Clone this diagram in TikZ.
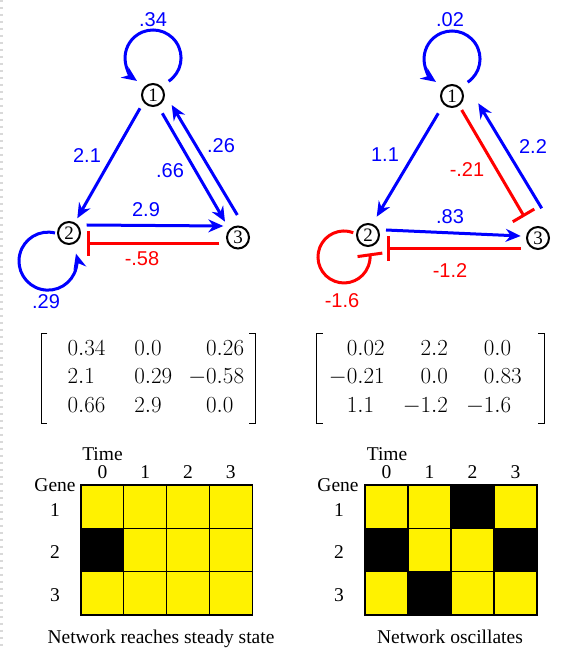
\documentclass[tikz,border=0pt]{standalone}
\usepackage{fix-cm}
\usepackage{fontspec}
\newfontfamily\wsans{Liberation Sans}
\newfontfamily\wserif{Liberation Serif}
\usetikzlibrary{arrows.meta,calc}

\tikzset{
  gene/.style={circle, draw, line width=2pt, minimum size=22pt, inner sep=0pt,
    font=\wserif\fontsize{19}{19}\selectfont},
  act/.style={draw=blue, line width=3pt, -{Stealth[length=15pt,width=13pt,inset=5pt]}},
  inh/.style={draw=red, line width=3pt, -{Bar[width=25pt]}},
  wt/.style={font=\wsans\fontsize{20}{20}\selectfont, inner sep=0pt},
  matx/.style={inner sep=0pt, font=\fontsize{23}{28.5}\selectfont},
  brk/.style={line width=0.9pt},
  gtext/.style={font=\wserif\fontsize{19.5}{19.5}\selectfont, inner sep=0pt},
  cell/.style={fill=yellow, draw=black, line width=1.2pt},
  off/.style={fill=black, draw=black, line width=1.2pt},
}

\begin{document}
\begin{tikzpicture}[x=1pt, y=1pt]
\useasboundingbox (0,0) rectangle (565,649);
% page edge
\draw[black!15, line width=2.5pt, dash pattern=on 2pt off 5pt] (1.5,649) -- (1.5,0);

% Network 1: reaches steady state
\node[gene] (L1) at (153,554) {1};
\node[gene] (L2) at (69,416) {2};
\node[gene] (L3) at (238,411.5) {3};

\draw[act] ($(L1)+(15.7,13.8)$) arc[start angle=-56, end angle=235, radius=28];
\draw[act] ($(L2)+(-14,0)$) arc[start angle=76, end angle=375, radius=29];
\draw[act] ($(L1)+(-13,-13.3)$) -- ($(L2)+(8.3,14.7)$);
\draw[act] ($(L1)+(9.3,-18.3)$) -- ($(L3)+(-13,15.8)$);
\draw[act] ($(L3)+(-0.7,22.5)$) -- ($(L1)+(18.7,-10)$);
\draw[act] ($(L2)+(17.7,8)$) -- ($(L3)+(-14.7,11.5)$);
\draw[inh] ($(L3)+(-18.7,-5.8)$) -- ($(L2)+(18.3,-10.3)$);

\node[wt, text=blue] (w11) at (153,629) {.34};
\node[wt, text=blue] (w21) at (87,493) {2.1};
\node[wt, text=blue] (w31) at (170,478) {.66};
\node[wt, text=blue] (w13) at (221,503) {.26};
\node[wt, text=blue] (w32) at (146,439) {2.9};
\node[wt, text=red] (w23) at (142,390) {-.58};
\node[wt, text=blue] (w22) at (46,347) {.29};

% Network 2: oscillates
\node[gene] (R1) at (452,553) {1};
\node[gene] (R2) at (368,414) {2};
\node[gene] (R3) at (538,411) {3};

\draw[act] ($(R1)+(15.7,13.8)$) arc[start angle=-56, end angle=235, radius=28];
\draw[inh] ($(R2)+(-14.7,2.3)$) arc[start angle=69, end angle=368, radius=26];
\draw[act] ($(R1)+(-13.7,-17.3)$) -- ($(R2)+(8.7,18.3)$);
\draw[inh] ($(R1)+(9.7,-14)$) -- ($(R3)+(-13.7,21.3)$);
\draw[act] ($(R3)+(3.7,29.7)$) -- ($(R1)+(26.3,-7.3)$);
\draw[act] ($(R2)+(18,5)$) -- ($(R3)+(-17.3,2)$);
\draw[inh] ($(R3)+(-17.3,-10.3)$) -- ($(R2)+(18.7,-13.3)$);

\node[wt, text=blue] (v11) at (450,629) {.02};
\node[wt, text=blue] (v21) at (385,494) {1.1};
\node[wt, text=red] (v31) at (467,479) {-.21};
\node[wt, text=blue] (v13) at (533,502) {2.2};
\node[wt, text=blue] (v32) at (450,432) {.83};
\node[wt, text=red] (v23) at (450,378) {-1.2};
\node[wt, text=red] (v22) at (342,348) {-1.6};

% weight matrices
\node[matx] (LM) at (155.8,271) {$\begin{array}{@{}l@{\hspace{29pt}}l@{\hspace{16pt}}l@{}}
 0.34 & 0.0 & \phantom{-}0.26\\
 2.1 & 0.29 & -0.58\\
 0.66 & 2.9 & \phantom{-}0.0
\end{array}$};
\draw[brk] ($(LM.west)+(-20,45)$) -- ++(-6,0) -- ++(0,-90) -- ++(6,0);
\draw[brk] ($(LM.east)+(5,45)$) -- ++(6,0) -- ++(0,-90) -- ++(-6,0);

\node[matx] (RM) at (425.4,271) {$\begin{array}{@{}l@{\hspace{18pt}}l@{\hspace{18pt}}l@{}}
 \phantom{-}0.02 & \phantom{-}2.2 & \phantom{-}0.0\\
 -0.21 & \phantom{-}0.0 & \phantom{-}0.83\\
 \phantom{-}1.1 & -1.2 & -1.6
\end{array}$};
\draw[brk] ($(RM.west)+(-6,45)$) -- ++(-6,0) -- ++(0,-90) -- ++(6,0);
\draw[brk] ($(RM.east)+(16,45)$) -- ++(6,0) -- ++(0,-90) -- ++(-6,0);

% Expression over time, network 1
\foreach \t in {0,...,3}
  \foreach \g in {1,2,3}
    \draw[cell] ({81+42.8*\t},{164-43.33*\g}) rectangle ++(42.8,43.33);
\draw[off] (81,{164-43.33*2}) rectangle ++(42.8,43.33);
\node[gtext] (time1) at (102.5,195) {Time};
\foreach \t in {0,...,3}
  \node[gtext] (col1\t) at ({102.4+42.8*\t},177) {\t};
\node[gtext] (gene1) at (55,164) {Gene};
\foreach \g in {1,2,3}
  \node[gtext] (row1\g) at (55,{139-42.5*(\g-1)}) {\g};
\node[gtext, anchor=base] (cap1) at (161,5.5) {Network reaches steady state};

% Expression over time, network 2
\foreach \t in {0,...,3}
  \foreach \g in {1,2,3}
    \draw[cell] ({365+43*\t},{164-43.33*\g}) rectangle ++(43,43.33);
\foreach \t/\g in {2/1,0/2,3/2,1/3}
  \draw[off] ({365+43*\t},{164-43.33*\g}) rectangle ++(43,43.33);
\node[gtext] (time2) at (387,195) {Time};
\foreach \t in {0,...,3}
  \node[gtext] (col2\t) at ({386.5+43*\t},177) {\t};
\node[gtext] (gene2) at (338,164) {Gene};
\foreach \g in {1,2,3}
  \node[gtext] (row2\g) at (339,{139-42.5*(\g-1)}) {\g};
\node[gtext, anchor=base] (cap2) at (450,5.5) {Network oscillates};
\end{tikzpicture}
\end{document}
